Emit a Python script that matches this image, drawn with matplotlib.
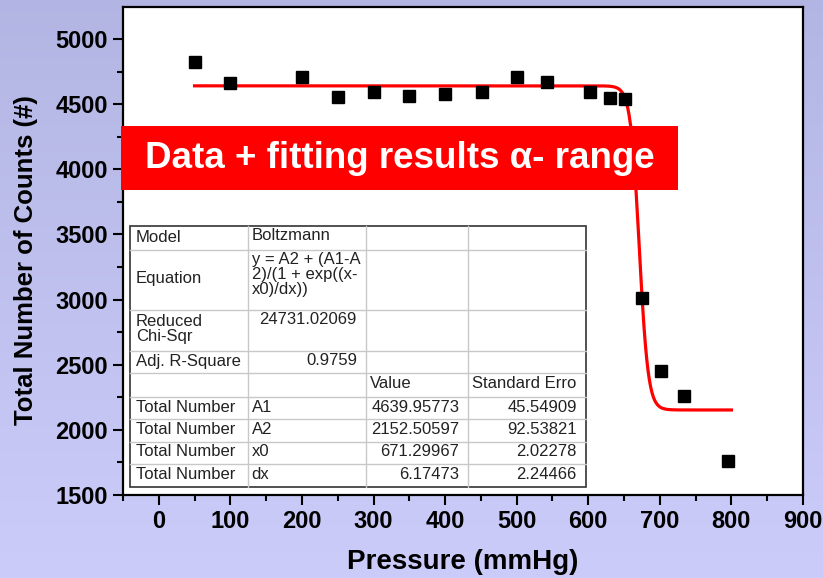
import numpy as np
import matplotlib.pyplot as plt
from matplotlib.patches import Rectangle

plt.rcParams['font.family'] = ['Liberation Sans', 'DejaVu Sans']

pressure = [50, 100, 200, 250, 300, 350, 400, 452, 500, 543, 603, 630, 652, 675, 701, 734, 795]
counts = [4826, 4660, 4706, 4557, 4590, 4565, 4575, 4590, 4706, 4670, 4590, 4550, 4541,
          3013, 2452, 2260, 1761]

# Boltzmann fit parameters from the results table
A1 = 4639.95773
A2 = 2152.50597
x0 = 671.29967
dx = 6.17473
fit_range = [50, 800]

xticks = [0, 100, 200, 300, 400, 500, 600, 700, 800, 900]
yticks = [1500, 2000, 2500, 3000, 3500, 4000, 4500, 5000]

table_rows = [
    ['Model', 'Boltzmann', '', ''],
    ['Equation', 'y = A2 + (A1-A\n2)/(1 + exp((x-\nx0)/dx))', '', ''],
    ['Reduced\nChi-Sqr', '24731.02069', '', ''],
    ['Adj. R-Square', '0.9759', '', ''],
    ['', '', 'Value', 'Standard Erro'],
    ['Total Number', 'A1', '4639.95773', '45.54909'],
    ['Total Number', 'A2', '2152.50597', '92.53821'],
    ['Total Number', 'x0', '671.29967', '2.02278'],
    ['Total Number', 'dx', '6.17473', '2.24466'],
]

W, H = 823, 578
fig = plt.figure(figsize=(W / 100, H / 100), dpi=100)

# lavender gradient background
bg = fig.add_axes([0, 0, 1, 1], zorder=-10)
grad = np.linspace(0, 1, 256).reshape(-1, 1)
top_c = np.array([0.70, 0.71, 0.89])
bot_c = np.array([0.80, 0.80, 0.98])
img = top_c[None, None, :] * (1 - grad[:, :, None]) + bot_c[None, None, :] * grad[:, :, None]
bg.imshow(img, aspect='auto', extent=[0, 1, 0, 1])
bg.axis('off')

AX_L, AX_R, AX_T, AX_B = 123, 803, 7, 495
ax = fig.add_axes([AX_L / W, 1 - AX_B / H, (AX_R - AX_L) / W, (AX_B - AX_T) / H])
ax.set_facecolor('white')

xf = np.linspace(fit_range[0], fit_range[1], 400)
yf = A2 + (A1 - A2) / (1 + np.exp((xf - x0) / dx))
ax.plot(xf, yf, color='red', lw=2.3, zorder=3)
ax.plot(pressure, counts, 's', color='black', ms=8, zorder=4)

ax.set_xlim(-50, 900)
ax.set_ylim(1500, 5245)
ax.set_xticks(xticks)
ax.set_yticks(yticks)
ax.set_xticks(np.arange(-50, 901, 50), minor=True)
ax.set_yticks(np.arange(1500, 5001, 250), minor=True)
ax.tick_params(which='major', direction='out', length=7, width=1.5, labelsize=17, pad=4)
ax.tick_params(which='minor', direction='out', length=4, width=1.5)
for lab in ax.get_xticklabels() + ax.get_yticklabels():
    lab.set_fontweight('bold')
for s in ax.spines.values():
    s.set_linewidth(1.6)

ax.set_xlabel('Pressure (mmHg)', fontsize=20, fontweight='bold')
ax.xaxis.set_label_coords(0.5, (AX_B - 549) / (AX_B - AX_T))
ax.set_ylabel('Total Number of Counts (#)', fontsize=18.5, fontweight='bold')
ax.yaxis.set_label_coords((38 - AX_L) / (AX_R - AX_L), (AX_B - 260) / (AX_B - AX_T))


def axx(px):
    return (px - AX_L) / (AX_R - AX_L)


def axy(py):
    return (AX_B - py) / (AX_B - AX_T)


# fit results table
col_px = [130, 247.7, 366, 468.3, 585.7]
row_px = [226, 250, 310, 351, 373.3, 396.7, 419.3, 441.7, 464.3, 486.7]
tcolor = '#222222'

ax.add_patch(Rectangle((axx(col_px[0]), axy(row_px[-1])),
                       axx(col_px[-1]) - axx(col_px[0]), axy(row_px[0]) - axy(row_px[-1]),
                       transform=ax.transAxes, facecolor='white', edgecolor='#333333',
                       lw=1.2, zorder=6))
for c in col_px[1:-1]:
    ax.plot([axx(c), axx(c)], [axy(row_px[0]), axy(row_px[-1])], transform=ax.transAxes,
            color='#c8c8c8', lw=1, zorder=7)
for r in row_px[1:-1]:
    ax.plot([axx(col_px[0]), axx(col_px[-1])], [axy(r), axy(r)], transform=ax.transAxes,
            color='#c8c8c8', lw=1, zorder=7)

for i, row in enumerate(table_rows):
    top, bot = row_px[i], row_px[i + 1]
    mid = (top + bot) / 2 - 1
    for j, txt in enumerate(row):
        if not txt:
            continue
        left, right = col_px[j], col_px[j + 1]
        numeric = txt.replace('.', '').isdigit()
        if numeric:
            x, ha = right - 9, 'right'
        else:
            x, ha = left + (6 if j == 0 else 4), 'left'
        if j == 1 and i < 4:
            y, va = top + 2, 'top'
        else:
            y, va = mid, 'center'
        ax.text(axx(x), axy(y), txt, transform=ax.transAxes, ha=ha, va=va,
                fontsize=12, color=tcolor, linespacing=1.0, zorder=8)

# red title banner
fig.add_artist(Rectangle((121 / W, 1 - 190 / H), (678 - 121) / W, (190 - 126) / H,
                         transform=fig.transFigure, facecolor='#ff0000', edgecolor='none',
                         zorder=5))
fig.text((121 + 678) / 2 / W, 1 - 158 / H, 'Data + fitting results \u03b1- range',
         ha='center', va='center', fontsize=26.5, fontweight='bold', color='white', zorder=6)

fig.savefig('out.png', dpi=100)
